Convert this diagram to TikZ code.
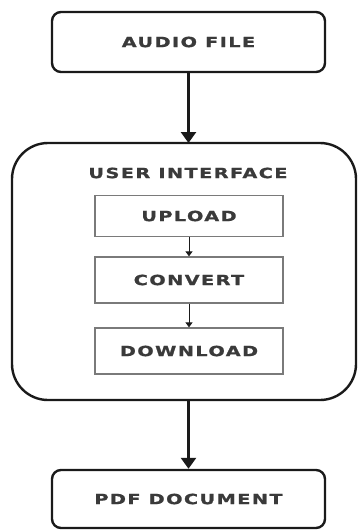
\documentclass[tikz,border=0pt]{standalone}
\usepackage{fontspec}
\newfontfamily\lbl{DejaVu Sans Bold}[FakeStretch=1.38,LetterSpace=10,FakeBold=1.2]
\usetikzlibrary{arrows.meta}
\definecolor{txt}{HTML}{3A3A3A}
\definecolor{ink}{HTML}{1A1A1A}
\definecolor{inner}{HTML}{7A7A7A}
\tikzset{
  outerbox/.style={draw=ink, line width=2.4pt, rounded corners=9pt, minimum width=273pt, minimum height=60pt, inner sep=0pt},
  bigbox/.style={draw=ink, line width=2.4pt, rounded corners=36pt},
  innerbox/.style={draw=inner, line width=1.3pt, minimum width=188pt, inner sep=0pt},
  lab/.style={font=\lbl\fontsize{14}{16}\selectfont, text=txt},
  bigarrow/.style={draw=ink, line width=2.6pt, -{Triangle[width=15pt,length=11pt]}},
  smallarrow/.style={draw=ink, line width=1pt, -{Triangle[width=7pt,length=5pt]}},
}
\begin{document}
\begin{tikzpicture}[x=1pt,y=-1pt]
\useasboundingbox (0,0) rectangle (358,530);
\node[outerbox, lab] (audio) at (188.5,42) {AUDIO FILE};
\draw[bigbox] (12,143) rectangle (356,400);
\coordinate (uiN) at (188.5,143);
\coordinate (uiS) at (188.5,400);
\node[lab] (uit) at (188,173) {USER INTERFACE};
\node[innerbox, lab, minimum height=41pt] (up) at (189,216) {UPLOAD};
\node[innerbox, lab, minimum height=46pt] (conv) at (189,280) {CONVERT};
\node[innerbox, lab, minimum height=46pt] (down) at (189,351) {DOWNLOAD};
\node[outerbox, lab, minimum height=58pt] (pdf) at (188.5,499) {PDF DOCUMENT};
% arrows
\draw[bigarrow] (audio) -- (uiN);
\draw[bigarrow] (uiS) -- (pdf);
\draw[smallarrow] (up) -- (conv);
\draw[smallarrow] (conv) -- (down);
\end{tikzpicture}
\end{document}
